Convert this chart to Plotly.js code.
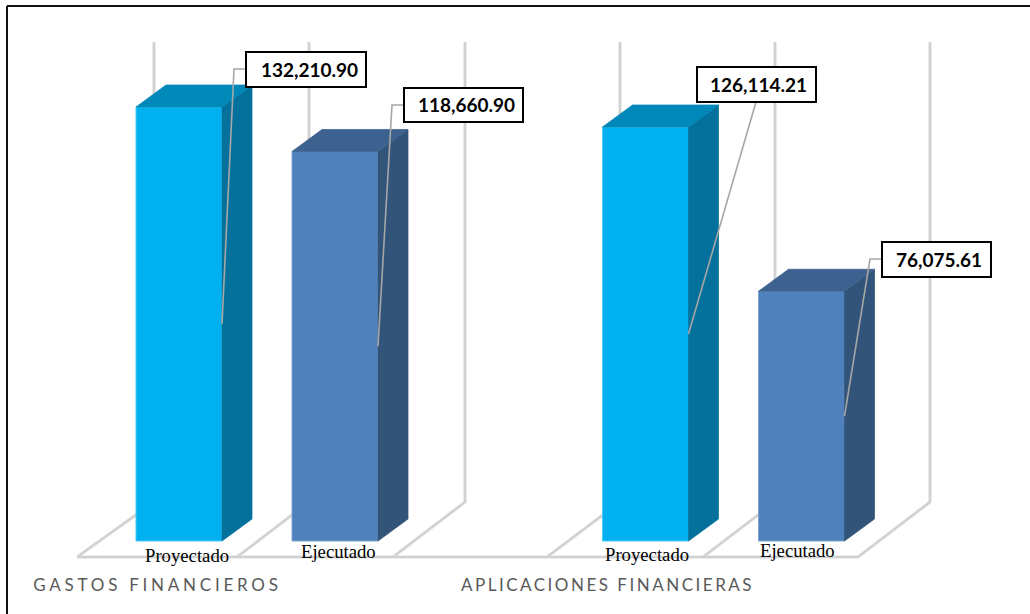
<!DOCTYPE html>
<html>
<head>
<meta charset="utf-8">
<script src="https://cdn.plot.ly/plotly-3.0.1.min.js"></script>
<style>
html,body{margin:0;padding:0;background:#fff;overflow:hidden}
#chart{width:1030px;height:614px}
.annotation[data-index="8"] text{letter-spacing:3.75px}
.annotation[data-index="9"] text{letter-spacing:2.5px}
</style>
</head>
<body>
<div id="chart"></div>
<script>
const categories = ["GASTOS FINANCIEROS", "APLICACIONES FINANCIERAS"];
const seriesNames = ["Proyectado", "Ejecutado"];
const proyectado = [132210.90, 126114.21];
const ejecutado = [118660.90, 76075.61];

// Layout: pixels of the 1030x614 page
const W = 1030, H = 614;
const baseY = 541, groupPitch = 466.5, group0X = 257;
const slotPx = 156, barPx = 86, depthXPx = 30, depthYPx = 22;
const yScale = 434 / 132210.9;
const xRange = [-group0X / groupPitch, (W - group0X) / groupPitch];
const yRange = [-(H - baseY) / yScale, baseY / yScale];
const px = v => v / W, py = v => 1 - v / H;

const series = [
  {name: seriesNames[0], values: proyectado, front: "#00B0F0", side: "#03719C", top: "#0088B8", edge: "#4CC8F5", off: -1},
  {name: seriesNames[1], values: ejecutado, front: "#4F81BD", side: "#335479", top: "#3E628F", edge: "#7FA3CF", off: 1}
];

const traces = series.map(s => ({
  type: "bar", name: s.name, x: categories, y: s.values,
  marker: {color: s.front, line: {color: s.edge, width: 1}},
  hoverinfo: "x+y+name"
}));

const shapes = [];
// Chart frame (only left and top sides exist)
[[7, 6, 1030, 6], [7, 6, 7, 614]].forEach(l => shapes.push({
  type: "line", xref: "paper", yref: "paper", layer: "below",
  x0: px(l[0]), y0: py(l[1]), x1: px(l[2]), y1: py(l[3]),
  line: {color: "#111111", width: 2}
}));
// Back walls and floor of the 3D box
const wallTopY = 42, wallBaseY = 502, floorY = 557;
const walls = [[154, 77], [309, 237], [465, 393], [620, 547], [775, 703], [930, 858]];
function wallPath(a, b, c, d, e, f) {
  return `M ${px(a)} ${py(b)} L ${px(c)} ${py(d)} L ${px(e)} ${py(f)}`;
}
const addGrey = path => {
  shapes.push({type: "path", xref: "paper", yref: "paper", layer: "below", path, line: {color: "#dcdcdc", width: 3.2}});
  shapes.push({type: "path", xref: "paper", yref: "paper", layer: "below", path, line: {color: "#c6c6c6", width: 1}});
};
walls.forEach(w => addGrey(wallPath(w[0], wallTopY, w[0], wallBaseY, w[1], floorY)));
addGrey(`M ${px(77)} ${py(floorY)} L ${px(858)} ${py(floorY)}`);

// 3D faces from the values
const dx = depthXPx / groupPitch, dy = depthYPx / yScale;
const hw = barPx / 2 / groupPitch, so = slotPx / 2 / groupPitch;
const barEdges = (i, s) => { const c = i + s.off * so; return [c - hw, c + hw]; };
series.forEach(s => s.values.forEach((v, i) => {
  const [l, r] = barEdges(i, s);
  const base = {type: "path", xref: "x", yref: "y", layer: "above"};
  shapes.push({...base, fillcolor: s.side, line: {color: s.side, width: 0.75},
    path: `M ${r} 0 L ${r + dx} ${dy} L ${r + dx} ${v + dy} L ${r} ${v} Z`});
  shapes.push({...base, fillcolor: s.top, line: {color: s.top, width: 0.75},
    path: `M ${l} ${v} L ${l + dx} ${v + dy} L ${r + dx} ${v + dy} L ${r} ${v} Z`});
}));

// Data labels: [series, category, boxLeft, boxTop, boxRight, boxBottom, elbowX, startX, startY, textCentreX]
const labelBoxes = [
  [0, 0, 246, 52, 366, 87, 234, 246, 69, 309],
  [1, 0, 404, 88, 523, 122, 392, 404, 105, 466],
  [0, 1, 697, 67, 816, 102, null, 756, 102, 758],
  [1, 1, 882, 242, 991, 277, 870, 882, 259, 939]
];
const fmt = v => v.toLocaleString("en-US", {minimumFractionDigits: 2, maximumFractionDigits: 2});
const annotations = [];
labelBoxes.forEach(b => {
  const s = series[b[0]], v = s.values[b[1]];
  const [, r] = barEdges(b[1], s);
  const toX = p => (p - group0X) / groupPitch;
  const toY = p => (baseY - p) / yScale;
  // Leader: label -> optional elbow -> middle of the bar's front right edge
  let path = `M ${toX(b[7])} ${toY(b[8])}`;
  if (b[6] !== null) path += ` L ${toX(b[6])} ${toY(b[8])}`;
  path += ` L ${r} ${v / 2}`;
  shapes.push({type: "path", xref: "x", yref: "y", layer: "above", path, line: {color: "#a6a6a6", width: 1.6}});
  shapes.push({type: "rect", xref: "paper", yref: "paper", layer: "above",
    x0: px(b[2]), x1: px(b[4]), y0: py(b[3]), y1: py(b[5]),
    fillcolor: "#fff", line: {color: "#000", width: 2}});
  annotations.push({
    xref: "paper", yref: "paper", x: px(b[9]), y: py((b[3] + b[5]) / 2), xanchor: "center", yanchor: "middle",
    text: "<b>" + fmt(v) + "</b>", showarrow: false,
    font: {family: "Lato, 'Open Sans', sans-serif", size: 19, color: "#000"}
  });
});
// Series labels under the bars
[[0, 187, 555], [1, 338, 551], [0, 647, 554], [1, 797, 550]].forEach(a => annotations.push({
  xref: "paper", yref: "paper", x: px(a[1]), y: py(a[2]), xanchor: "center", yanchor: "middle",
  text: seriesNames[a[0]], showarrow: false,
  font: {family: "'Liberation Serif', serif", size: 18.7, color: "#000"}
}));
// Category labels
[[0, 157], [1, 607]].forEach(a => annotations.push({
  xref: "paper", yref: "paper", x: px(a[1]), y: py(584), xanchor: "center", yanchor: "middle",
  text: categories[a[0]], showarrow: false,
  font: {family: "Lato, 'Open Sans', sans-serif", size: 17, color: "#595959"}
}));

const layout = {
  width: W, height: H, margin: {l: 0, r: 0, t: 0, b: 0, pad: 0},
  paper_bgcolor: "#fff", plot_bgcolor: "rgba(0,0,0,0)", showlegend: false,
  barmode: "group",
  bargap: 1 - 2 * slotPx / groupPitch,
  bargroupgap: 1 - barPx / slotPx,
  xaxis: {type: "category", range: xRange, visible: false, fixedrange: true},
  yaxis: {range: yRange, visible: false, fixedrange: true},
  shapes, annotations
};
Plotly.newPlot("chart", traces, layout, {displayModeBar: false, responsive: false});
</script>
</body>
</html>
